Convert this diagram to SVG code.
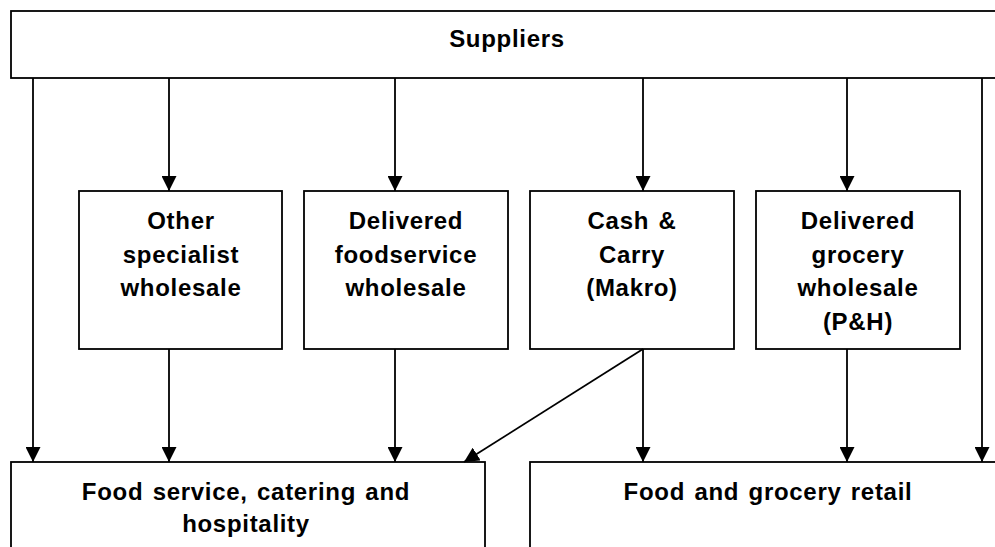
<svg xmlns="http://www.w3.org/2000/svg" width="995" height="547" viewBox="0 0 995 547">
<style>
.box{fill:#fff;stroke:#000;stroke-width:1.8}
.t{font-family:"Liberation Sans",Arial,sans-serif;font-weight:bold;font-size:24px;letter-spacing:0.7px;word-spacing:2px;text-anchor:middle;fill:#000}
.c{stroke:#000;stroke-width:1.8;fill:none;marker-end:url(#ah)}
</style>
<defs>
<marker id="ah" markerUnits="userSpaceOnUse" markerWidth="15" markerHeight="15" viewBox="0 0 15 15" refX="15" refY="7.5" orient="auto">
<path d="M0,0 L15,7.5 L0,15 z" fill="#000"/>
</marker>
</defs>
<g id="suppliers">
<rect class="box" x="11" y="11" width="1000" height="67"/>
<text class="t" x="507" y="47">Suppliers</text>
</g>
<g id="other">
<rect class="box" x="79" y="191" width="203" height="158"/>
<text class="t" x="181" y="229">Other</text>
<text class="t" x="181" y="262.5">specialist</text>
<text class="t" x="181" y="296">wholesale</text>
</g>
<g id="foodservice">
<rect class="box" x="304" y="191" width="204" height="158"/>
<text class="t" x="406" y="229">Delivered</text>
<text class="t" x="406" y="262.5">foodservice</text>
<text class="t" x="406" y="296">wholesale</text>
</g>
<g id="cashcarry">
<rect class="box" x="530" y="191" width="204" height="158"/>
<text class="t" x="632" y="229">Cash &amp;</text>
<text class="t" x="632" y="262.5">Carry</text>
<text class="t" x="632" y="296">(Makro)</text>
</g>
<g id="grocery">
<rect class="box" x="756" y="191" width="204" height="158"/>
<text class="t" x="858" y="229">Delivered</text>
<text class="t" x="858" y="262.5">grocery</text>
<text class="t" x="858" y="296">wholesale</text>
<text class="t" x="858" y="329.5">(P&amp;H)</text>
</g>
<g id="catering">
<rect class="box" x="11" y="462" width="474" height="120"/>
<text class="t" x="246" y="500">Food service, catering and</text>
<text class="t" x="246" y="532">hospitality</text>
</g>
<g id="retail">
<rect class="box" x="530" y="462" width="500" height="120"/>
<text class="t" x="768" y="500">Food and grocery retail</text>
</g>
<g id="connectors">
<line class="c" x1="33" y1="78" x2="33" y2="462"/>
<line class="c" x1="169" y1="78" x2="169" y2="191"/>
<line class="c" x1="395" y1="78" x2="395" y2="191"/>
<line class="c" x1="643" y1="78" x2="643" y2="191"/>
<line class="c" x1="847" y1="78" x2="847" y2="191"/>
<line class="c" x1="982" y1="78" x2="982" y2="462"/>
<line class="c" x1="169" y1="349" x2="169" y2="462"/>
<line class="c" x1="395" y1="349" x2="395" y2="462"/>
<line class="c" x1="643" y1="349" x2="643" y2="462"/>
<line class="c" x1="847" y1="349" x2="847" y2="462"/>
<line class="c" x1="643" y1="349" x2="464" y2="462"/>
</g>
</svg>
